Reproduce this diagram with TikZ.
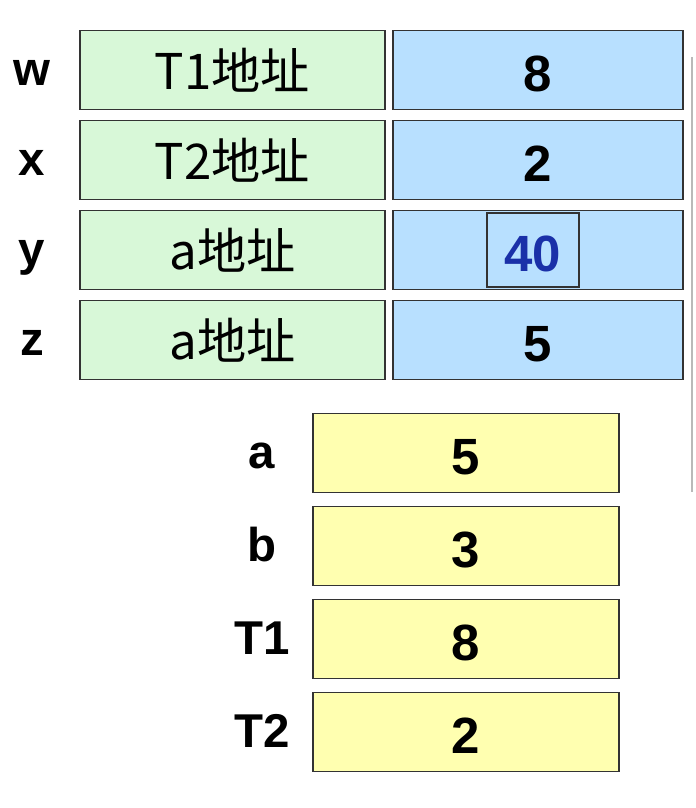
\documentclass[tikz,border=0pt]{standalone}
\usepackage{fontspec}
\setmainfont{Liberation Sans}
\newfontfamily\cjk{Noto Sans CJK SC}
\usepackage{tikz}
\usetikzlibrary{positioning}

\definecolor{addrgreen}{HTML}{D8F8D8}
\definecolor{cellblue}{HTML}{B8E0FF}
\definecolor{cellyellow}{HTML}{FFFFB0}
\definecolor{numblue}{HTML}{1A30A8}

\begin{document}
\begin{tikzpicture}[node distance = 1.8cm, on grid,
	lbl/.style  = {font=\fontsize{27}{30}\selectfont\bfseries, inner sep=0pt, text height=18pt, text depth=0pt},
	cell/.style = {draw=black!80, line width=1pt, minimum height=1.58cm, inner sep=0pt},
	addr/.style = {cell, fill=addrgreen, minimum width=6.1cm, font=\fontsize{28}{31}\selectfont\cjk},
	ptr/.style  = {cell, fill=cellblue, minimum width=5.8cm, font=\fontsize{29}{31}\selectfont\bfseries, text height=24pt, text depth=0pt},
	mem/.style  = {cell, fill=cellyellow, minimum width=6.12cm, font=\fontsize{29}{31}\selectfont\bfseries, text height=24pt, text depth=0pt}]
	\useasboundingbox (0,0) rectangle (13.9,-16.16);

	% pointer variables
	\node	[lbl]	(w)	at (0.64,-1.4)		{w};
	\node	[lbl]	(x)	[below=of w]		{x};
	\node	[lbl]	(y)	[below=of x]		{y};
	\node	[lbl]	(z)	[below=of y]		{z};

	\node	[addr]	(wa)	[right=4.01cm of w]	{T1地址};
	\node	[addr]	(xa)	[right=4.01cm of x]	{T2地址};
	\node	[addr]	(ya)	[right=4.01cm of y]	{a地址};
	\node	[addr]	(za)	[right=4.01cm of z]	{a地址};

	\node	[ptr]	(wv)	[right=6.11cm of wa]	{8};
	\node	[ptr]	(xv)	[right=6.11cm of xa]	{2};
	\node	[ptr]	(yv)	[right=6.11cm of ya]	{};
	\node	[ptr]	(zv)	[right=6.11cm of za]	{5};
	\node	[ptr, minimum width=1.84cm, minimum height=1.48cm, text=numblue]
		(yn)	[left=0.1cm of yv]	{40};

	% plain variables
	\node	[mem]	(av)	at (9.32,-9.06)		{5};
	\node	[mem]	(bv)	[below=1.86cm of av]	{3};
	\node	[mem]	(t1v)	[below=1.86cm of bv]	{8};
	\node	[mem]	(t2v)	[below=1.86cm of t1v]	{2};

	\node	[lbl]	(a)	[left=4.08cm of av]	{a};
	\node	[lbl]	(b)	[left=4.08cm of bv]	{b};
	\node	[lbl]	(t1)	[left=4.08cm of t1v]	{T1};
	\node	[lbl]	(t2)	[left=4.08cm of t2v]	{T2};

	\draw [gray!55, line width=1.5pt] (13.84,-1.14) -- (13.84,-9.84);

\end{tikzpicture}
\end{document}
